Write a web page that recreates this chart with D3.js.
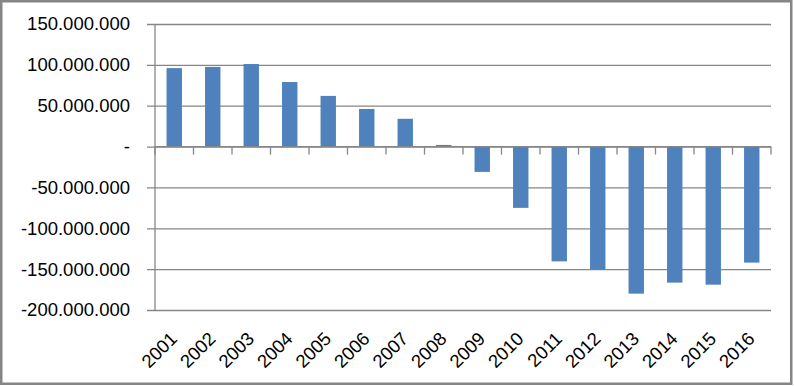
<!DOCTYPE html>
<html>
<head>
<meta charset="utf-8">
<script src="https://cdn.jsdelivr.net/npm/d3@7"></script>
<style>
  body { margin: 0; background: #fff; }
  text { font-family: "Liberation Sans", Arial, sans-serif; fill: #000; }
</style>
</head>
<body>
<svg id="chart"></svg>
<script>
const years = ["2001","2002","2003","2004","2005","2006","2007","2008","2009","2010","2011","2012","2013","2014","2015","2016"];
const values = [96000000, 97500000, 101000000, 79000000, 62000000, 46000000, 34000000, 2000000,
  -31000000, -75000000, -140500000, -150500000, -180000000, -166500000, -169000000, -142000000];
const yTicks = [150000000, 100000000, 50000000, 0, -50000000, -100000000, -150000000, -200000000];

const width = 794, height = 386;
const margin = {top: 24, right: 23, bottom: 76, left: 155};
const gridColor = "#868686";

const svg = d3.select("#chart")
  .attr("width", width)
  .attr("height", height);

// outer frame
svg.append("rect")
  .attr("x", 1.25)
  .attr("y", 1.25)
  .attr("width", width - 4)
  .attr("height", height - 3.5)
  .style("fill", "none")
  .style("stroke", gridColor)
  .style("stroke-width", 2.5);

const x = d3.scaleBand()
  .domain(years)
  .range([margin.left, width - margin.right])
  .paddingInner(0.6)
  .paddingOuter(0.3);

const y = d3.scaleLinear()
  .domain([-200000000, 150000000])
  .range([height - margin.bottom, margin.top]);

// number format with dot separators, zero shown as "-"
const fmt = d3.formatLocale({decimal: ",", thousands: ".", grouping: [3], currency: ["", ""], minus: "-"}).format(",d");
const label = v => v === 0 ? "-" : fmt(v);

// gridlines + y ticks
const yAxis = d3.axisLeft(y)
  .tickValues(yTicks)
  .tickSize(-(width - margin.left - margin.right))
  .tickFormat(label);

const gy = svg.append("g")
  .attr("transform", "translate(" + margin.left + ",0)")
  .call(yAxis);
gy.select(".domain").remove();
gy.selectAll(".tick line")
  .attr("x1", -8)
  .style("stroke", gridColor)
  .style("stroke-width", 1.3);
gy.selectAll(".tick text")
  .attr("x", -25)
  .style("font-size", "18.5px")
  .style("font-family", "'Liberation Sans', Arial, sans-serif")
  .style("fill", "#000");

// vertical axis line
svg.append("line")
  .attr("x1", margin.left).attr("x2", margin.left)
  .attr("y1", margin.top).attr("y2", height - margin.bottom)
  .style("stroke", gridColor)
  .style("stroke-width", 1.3);

// bars
svg.selectAll(".bar")
  .data(values)
  .join("rect")
  .attr("class", "bar")
  .attr("x", (d, i) => x(years[i]))
  .attr("width", x.bandwidth())
  .attr("y", d => y(Math.max(0, d)))
  .attr("height", d => Math.abs(y(d) - y(0)))
  .style("fill", "#4F81BD");

// category axis at zero
const step = x.step();
const x0 = margin.left;
svg.append("line")
  .attr("x1", x0).attr("x2", width - margin.right)
  .attr("y1", y(0)).attr("y2", y(0))
  .style("stroke", gridColor)
  .style("stroke-width", 1.3);

svg.selectAll(".xtick")
  .data(d3.range(years.length + 1))
  .join("line")
  .attr("class", "xtick")
  .attr("x1", i => x0 + i * step)
  .attr("x2", i => x0 + i * step)
  .attr("y1", y(0))
  .attr("y2", y(0) + 8)
  .style("stroke", gridColor)
  .style("stroke-width", 1.3);

// rotated year labels below the plot
svg.selectAll(".xlabel")
  .data(years)
  .join("text")
  .attr("class", "xlabel")
  .attr("text-anchor", "end")
  .style("font-size", "18.5px")
  .attr("transform", d => "translate(" + (x(d) + x.bandwidth() / 2 + 4) + "," + (height - margin.bottom + 30) + ") rotate(-45)")
  .text(d => d);
</script>
</body>
</html>
